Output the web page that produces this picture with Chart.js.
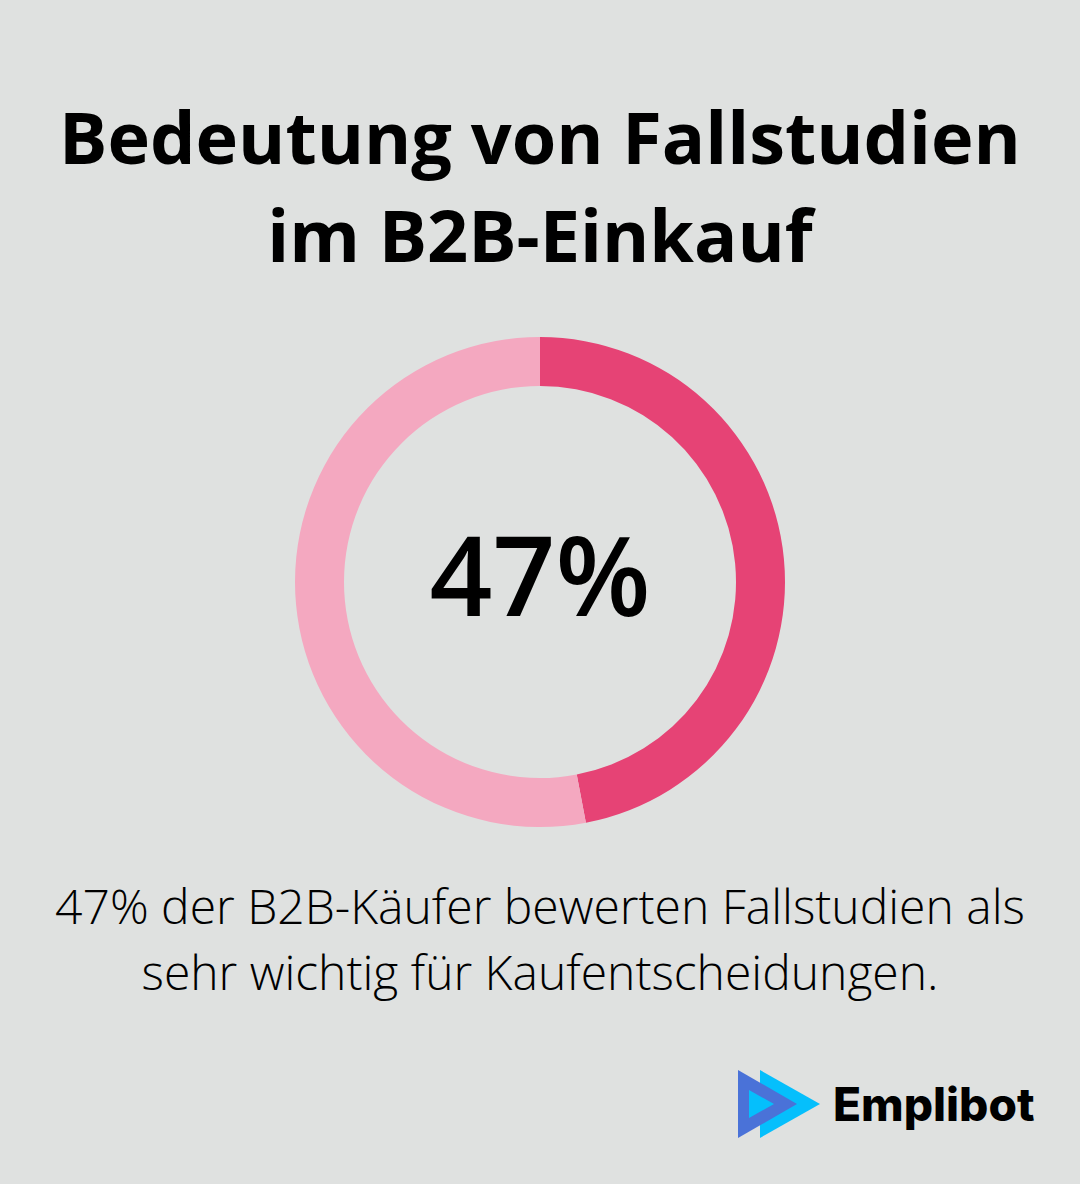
<!DOCTYPE html>
<html>
<head>
<meta charset="utf-8">
<script src="https://cdn.jsdelivr.net/npm/chart.js@4"></script>
<style>
  html, body { margin: 0; padding: 0; background: #dfe1e0; }
  #wrap { position: relative; width: 1080px; height: 1184px; overflow: hidden; font-family: "Open Sans", sans-serif; color: #000; }
  h1 { position: absolute; left: 0; top: 87px; width: 1080px; margin: 0; text-align: center; font-size: 72px; line-height: 98px; font-weight: 700; }
  #chartBox { position: absolute; left: 290px; top: 332px; width: 500px; height: 500px; }
  #big { position: absolute; left: 0; top: 503px; width: 1080px; text-align: center; font-size: 110px; line-height: 140px; font-weight: 600; }
  #note { position: absolute; left: 0; top: 873px; width: 1080px; text-align: center; font-size: 48px; line-height: 66px; font-weight: 300; }
  #logo { position: absolute; left: 737px; top: 1070px; }
  #brand { position: absolute; left: 833px; top: 1070px; font-family: "Inter", sans-serif; font-size: 46px; line-height: 68px; font-weight: 800; letter-spacing: 0; }
</style>
</head>
<body>
<div id="wrap">
  <h1>Bedeutung von Fallstudien<br>im B2B-Einkauf</h1>
  <div id="chartBox"><canvas id="ring"></canvas></div>
  <div id="big">47%</div>
  <div id="note">47% der B2B-Käufer bewerten Fallstudien als<br>sehr wichtig für Kaufentscheidungen.</div>
  <svg id="logo" width="84" height="68" viewBox="0 0 84 68">
    <polygon points="23,0 83,34 23,68" fill="#05bffc"/>
    <polygon points="1,0 60,34 1,68" fill="#4a72d8"/>
    <polygon points="12,20 37,34 12,48" fill="#05bffc"/>
  </svg>
  <div id="brand">Emplibot</div>
</div>
<script>
const categories = ['Sehr wichtig', 'Andere'];
const values = [47, 53];
const colors = ['#e64375', '#f4a8c0'];

new Chart(document.getElementById('ring'), {
    type: 'doughnut',
    data: {
        labels: categories,
        datasets: [{
            data: values,
            backgroundColor: colors,
            borderWidth: 0
        }]
    },
    options: {
        responsive: true,
        maintainAspectRatio: true,
        animation: false,
        cutout: '80%',
        layout: { padding: 5 },
        plugins: {
            legend: { display: false },
            tooltip: { enabled: false }
        }
    }
});
</script>
</body>
</html>
